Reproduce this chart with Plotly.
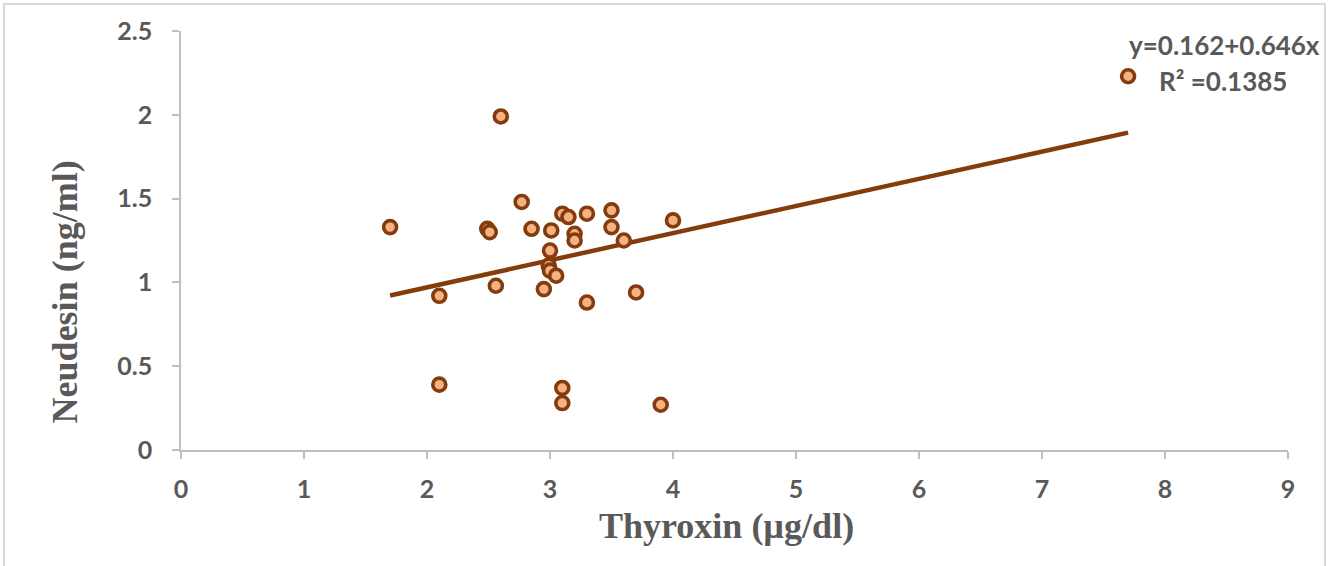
import plotly.graph_objects as go

# Data
thyroxin = [1.7, 2.1, 2.1, 2.49, 2.51, 2.6, 2.56, 2.77, 2.85, 2.95, 3.0, 3.01, 2.99, 3.0,
            3.05, 3.1, 3.15, 3.2, 3.2, 3.3, 3.3, 3.1, 3.1, 3.5, 3.5, 3.6, 3.7, 3.9, 4.0, 7.7]
neudesin = [1.33, 0.92, 0.39, 1.32, 1.30, 1.99, 0.98, 1.48, 1.32, 0.96, 1.19, 1.31, 1.10, 1.07,
            1.04, 1.41, 1.39, 1.29, 1.25, 1.41, 0.88, 0.37, 0.28, 1.43, 1.33, 1.25, 0.94, 0.27, 1.37, 2.23]

trend_intercept = 0.646
trend_slope = 0.162
equation_label = "y=0.162+0.646x"
r2_label = "R² =0.1385"
x_ticks = [0, 1, 2, 3, 4, 5, 6, 7, 8, 9]
y_ticks = [0, 0.5, 1, 1.5, 2, 2.5]

x_min, x_max = min(thyroxin), max(thyroxin)
trend_x = [x_min, x_max]
trend_y = [trend_intercept + trend_slope * v for v in trend_x]

DARK = "#843C0C"
FILL = "#F4B183"
GREY = "#595959"
AXIS = "#BFBFBF"

fig = go.Figure()
fig.add_trace(go.Scatter(x=trend_x, y=trend_y, mode="lines",
                         line=dict(color=DARK, width=4.5), hoverinfo="skip", showlegend=False))
fig.add_trace(go.Scatter(x=thyroxin, y=neudesin, mode="markers",
                         marker=dict(size=13, color=FILL, line=dict(color=DARK, width=3.6)),
                         showlegend=False))

tickfont = dict(family="Lato, Carlito, 'Open Sans', sans-serif", size=25, color=GREY, weight="bold")

fig.update_xaxes(range=[0, 9], tickvals=x_ticks, ticktext=[str(v) for v in x_ticks],
                 showgrid=False, zeroline=False, showline=True, linecolor=AXIS, linewidth=1.5,
                 ticks="outside", ticklen=7, tickcolor=AXIS, tickwidth=1.5,
                 tickfont=tickfont, ticklabelstandoff=9)
fig.update_yaxes(range=[0, 2.5], tickvals=y_ticks, ticktext=[f"{v:g}" for v in y_ticks],
                 showgrid=False, zeroline=False, showline=True, linecolor=AXIS, linewidth=1.5,
                 ticks="outside", ticklen=7, tickcolor=AXIS, tickwidth=1.5,
                 tickfont=tickfont, ticklabelstandoff=15)

titlefont = dict(family="'Liberation Serif', 'Times New Roman', serif", size=36, color=GREY, weight="bold")
fig.add_annotation(text="Thyroxin (µg/dl)", xref="paper", yref="paper", x=0.493, y=-0.182,
                   showarrow=False, font=titlefont, xanchor="center", yanchor="middle")
fig.add_annotation(text="Neudesin (ng/ml)", xref="paper", yref="paper", x=-0.105, y=0.378,
                   showarrow=False, font=titlefont, textangle=-90, xanchor="center", yanchor="middle")

labfont = dict(family="Lato, Carlito, 'Open Sans', sans-serif", size=26, color=GREY, weight="bold")
fig.add_annotation(text=equation_label, xref="paper", yref="paper", x=0.943, y=0.967,
                   showarrow=False, font=labfont, xanchor="center", yanchor="middle")
fig.add_annotation(text=r2_label, xref="paper", yref="paper", x=0.941, y=0.881,
                   showarrow=False, font=labfont, xanchor="center", yanchor="middle")

fig.add_shape(type="rect", xref="paper", yref="paper", x0=-0.1599, x1=1.0334, y0=-0.35, y1=1.0644,
              line=dict(color="#D9D9D9", width=2), fillcolor="rgba(0,0,0,0)", layer="below")

fig.update_layout(width=1330, height=566, margin=dict(l=181, r=42, t=31, b=116),
                  paper_bgcolor="white", plot_bgcolor="white", showlegend=False)

fig.write_html("out.html", config={"displayModeBar": False},
               post_script="document.body.style.margin='0';document.body.style.overflow='hidden';")
